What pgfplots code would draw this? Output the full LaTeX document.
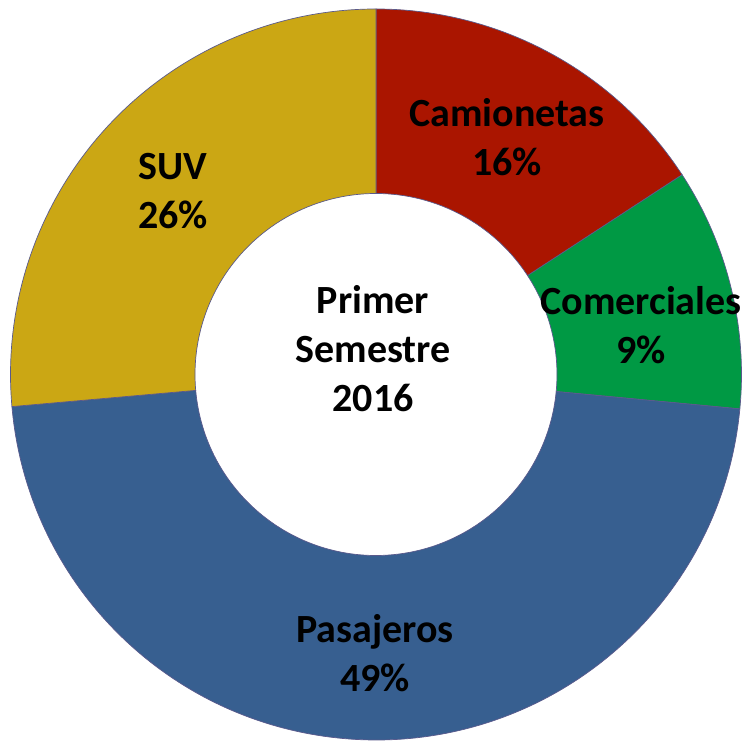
\documentclass[border=0pt]{standalone}
\usepackage{pgfplots}
\pgfplotsset{compat=1.18}
\usepackage{fontspec}
\setmainfont{Carlito}
\definecolor{camred}{RGB}{170,21,0}
\definecolor{comgreen}{RGB}{0,153,68}
\definecolor{pasblue}{RGB}{55,95,144}
\definecolor{suvgold}{RGB}{203,167,20}
\definecolor{edgecol}{RGB}{90,90,140}
% shares (percent of the circle) as drawn: Camionetas, Comerciales, Pasajeros, SUV
% start/end angles (deg, counter-clockwise) from 90 going clockwise
\newcommand{\seg}[4]{% color, start, end, (unused)
  \fill[#1, draw=edgecol, line width=0.7pt]
    (axis cs:{365.5*cos(#2)},{365.5*sin(#2)})
    arc[start angle=#2, end angle=#3, radius=365.5pt]
    -- (axis cs:{181*cos(#3)},{181*sin(#3)})
    arc[start angle=#3, end angle=#2, radius=181pt] -- cycle;}
\begin{document}
\begin{tikzpicture}
\begin{axis}[
  scale only axis, width=747pt, height=741pt,
  xmin=-376, xmax=371, ymin=-366.5, ymax=374.5,
  axis lines=none, clip=false,
  font=\fontsize{40}{49}\selectfont\bfseries,
]
\addplot[draw=none] coordinates {(0,0)};
% values: Camionetas 15.8, Comerciales 10.7, Pasajeros 47.1, SUV 26.4 (percent)
\seg{camred}{90}{33.12}{}
\seg{comgreen}{33.12}{-5.40}{}
\seg{pasblue}{-5.40}{-174.96}{}
\seg{suvgold}{-174.96}{-270}{}
\node[align=center, inner sep=0pt] at (axis cs:131,237) {Camionetas\\16\%};
\node[align=center, inner sep=0pt] at (axis cs:265,49) {Comerciales\\9\%};
\node[align=center, inner sep=0pt] at (axis cs:-1,-279) {Pasajeros\\49\%};
\node[align=center, inner sep=0pt] at (axis cs:-203,183) {SUV\\26\%};
\node[align=center, inner sep=0pt] at (axis cs:-3,26) {Primer\\Semestre\\2016};
\end{axis}
\pgfresetboundingbox
\path[use as bounding box] (current axis.south west) rectangle (current axis.north east);
\end{tikzpicture}
\end{document}
